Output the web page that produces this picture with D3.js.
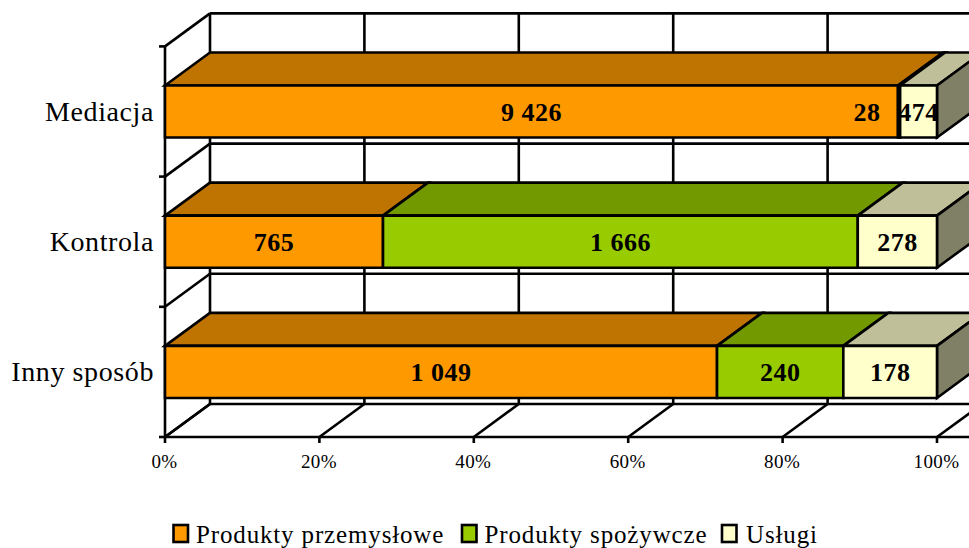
<!DOCTYPE html>
<html><head><meta charset="utf-8">
<script src="https://cdn.jsdelivr.net/npm/d3@7"></script>
<style>html,body{margin:0;padding:0;background:#fff}svg{display:block}text{font-family:"Liberation Serif",serif;fill:#000}</style>
</head><body><svg id="c" width="969" height="548"></svg>
<script>
const categories = ["Mediacja","Kontrola","Inny sposób"];
const seriesNames = ["Produkty przemysłowe","Produkty spożywcze","Usługi"];
const produktyPrzemyslowe = [9426,765,1049];
const produktySpozywcze = [28,1666,240];
const uslugi = [474,278,178];
const valueLabels = [["9 426","28","474"],["765","1 666","278"],["1 049","240","178"]];
const tickValues = [0,20,40,60,80,100];
const frontColors = ["#FF9900","#99CC00","#FFFFCC"];
const topColors = ["#BF7300","#729900","#BFBF99"];
const sideColor = "#808066";

const W=969,H=548,DX=45,DY=-33,SW=2.6;
const svg=d3.select("#c").attr("viewBox",`0 0 ${W} ${H}`);
const x=d3.scaleLinear().domain([0,100]).range([165,937]);
const y=d3.scaleBand().domain(categories).range([46.4,437]).paddingInner(0.6).paddingOuter(0.3);
const band=d3.scaleBand().domain(categories).range([46.4,437]);
const line=(x1,y1,x2,y2,w=SW)=>svg.append("line").attr("x1",x1).attr("y1",y1).attr("x2",x2).attr("y2",y2).attr("stroke","#000").attr("stroke-width",w);
const [yT,yB]=band.range();

// walls
tickValues.forEach(t=>{
  line(x(t)+DX,yT+DY,x(t)+DX,yB+DY);
  line(x(t),yB,x(t)+DX,yB+DY);
  line(x(t),yB,x(t),yB+6);
});
const edges=[yT,...categories.map(c=>band(c)+band.step())];
edges.forEach(v=>{
  line(x(0)-6,v,x(0),v);
  line(x(0),v,x(0)+DX,v+DY);
  line(x(0)+DX,v+DY,W,v+DY);
});
line(x(0),yT,x(0),yB);
line(x(0),yB,W,yB);

// bars
const series=[produktyPrzemyslowe,produktySpozywcze,uslugi];
const poly=(pts,fill)=>svg.append("polygon").attr("points",pts.map(p=>p.join(",")).join(" "))
  .attr("fill",fill).attr("stroke","#000").attr("stroke-width",SW).attr("stroke-linejoin","miter");
categories.forEach((c,i)=>{
  const total=d3.sum(series,s=>s[i]);
  const y0=y(c),y1=y0+y.bandwidth();
  let cum=0;
  const segs=series.map((s,k)=>{
    const a=x(cum/total*100);cum+=s[i];
    return {a,b:x(cum/total*100),k};
  });
  segs.forEach(({a,b,k})=>{
    poly([[a,y0],[a+DX,y0+DY],[b+DX,y0+DY],[b,y0]],topColors[k]);
  });
  const last=segs[segs.length-1];
  poly([[last.b,y0],[last.b+DX,y0+DY],[last.b+DX,y1+DY],[last.b,y1]],sideColor);
  segs.forEach(({a,b,k})=>{
    poly([[a,y0],[b,y0],[b,y1],[a,y1]],frontColors[k]);
  });
  segs.forEach(({a,b,k})=>{
    let cx=(a+b)/2;
    if(i===0&&k===1) cx=a-31;
    svg.append("text").attr("x",cx).attr("y",(y0+y1)/2+9.5)
      .attr("text-anchor","middle").attr("font-size",26).attr("font-weight","bold")
      .attr("letter-spacing",0.5).text(valueLabels[i][k]);
  });
  svg.append("text").attr("x",154).attr("y",(y0+y1)/2+9).attr("text-anchor","end")
    .attr("font-size",28).attr("letter-spacing",0.6).text(c);
});

// value axis labels
tickValues.forEach(t=>{
  svg.append("text").attr("x",x(t)-0.5).attr("y",468).attr("text-anchor","middle").attr("font-size",19).attr("letter-spacing",0.4).text(t+"%");
});

// legend
const legendX=[173.5,462,722], legendText=[196,484.5,746];
seriesNames.forEach((n,k)=>{
  svg.append("rect").attr("x",legendX[k]).attr("y",525).attr("width",14.5).attr("height",17)
    .attr("fill",frontColors[k]).attr("stroke","#000").attr("stroke-width",2.6);
  svg.append("text").attr("x",legendText[k]).attr("y",543).attr("font-size",25).attr("letter-spacing",0.85).text(n);
});
</script></body></html>
